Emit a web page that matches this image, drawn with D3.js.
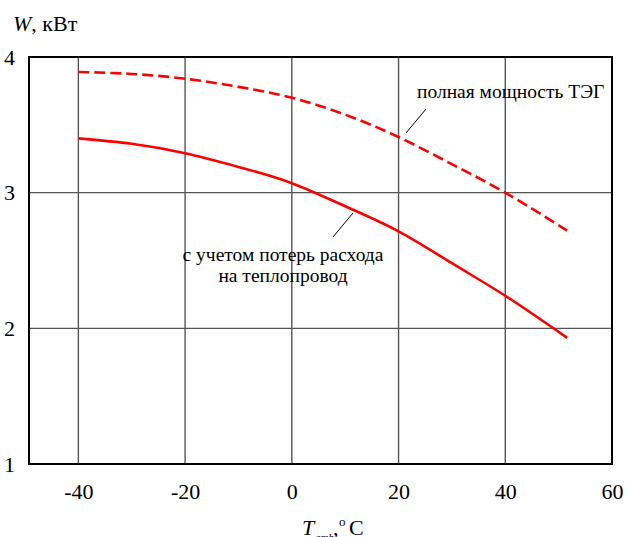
<!DOCTYPE html>
<html>
<head>
<meta charset="utf-8">
<script src="https://cdn.jsdelivr.net/npm/d3@7"></script>
<style>
	body { margin: 0; background: #fff; }
</style>
</head>
<body>
<div id="chart-area"></div>
<script>

const width = 628;
const height = 537;
const margin = {top: 57, right: 16, bottom: 73, left: 29};
const FONT = "Liberation Serif";

// температура, °C
const temps = [-40, -30, -20, -10, 0, 10, 20, 30, 40, 51.6];
// полная мощность ТЭГ, кВт
const fullPower = [3.89, 3.875, 3.84, 3.78, 3.70, 3.575, 3.41, 3.21, 3.0, 2.72];
// с учетом потерь на теплопровод, кВт
const netPower = [3.40, 3.36, 3.29, 3.19, 3.07, 2.90, 2.715, 2.48, 2.24, 1.93];

const xTicks = [-40, -20, 0, 20, 40, 60];
const yTicks = [1, 2, 3, 4];

var svg = d3.select("#chart-area").append("svg")
	.attr("width", width)
	.attr("height", height)
	.style("font-family", FONT);

// шкалы
var x = d3.scaleLinear()
	.domain([-49.25, 60])
	.range([margin.left, width - margin.right]);

var y = d3.scaleLinear()
	.domain([1, 4])
	.range([height - margin.bottom, margin.top]);

// сетка
svg.selectAll(".vgrid")
	.data(xTicks.filter(d => d < 60))
	.enter().append("line")
	.attr("class", "vgrid")
	.attr("x1", d => x(d)).attr("x2", d => x(d))
	.attr("y1", y(4)).attr("y2", y(1))
	.attr("stroke", "#555")
	.attr("stroke-width", 1.4);

svg.selectAll(".hgrid")
	.data(yTicks.filter(d => d > 1 && d < 4))
	.enter().append("line")
	.attr("class", "hgrid")
	.attr("x1", x(-49.25)).attr("x2", x(60))
	.attr("y1", d => y(d)).attr("y2", d => y(d))
	.attr("stroke", "#555")
	.attr("stroke-width", 1.4);

// рамка
svg.append("rect")
	.attr("x", x(-49.25))
	.attr("y", y(4))
	.attr("width", x(60) - x(-49.25))
	.attr("height", y(1) - y(4))
	.attr("fill", "none")
	.attr("stroke", "#000")
	.attr("stroke-width", 2);

// оси
var xAxis = svg.append("g")
	.attr("transform", `translate(0,${y(1)})`)
	.call(d3.axisBottom(x).tickValues(xTicks).tickSize(0).tickPadding(19).tickFormat(d => d < 0 ? "-" + Math.abs(d) : d));
xAxis.select(".domain").remove();
xAxis.selectAll("text")
	.style("font-family", FONT)
	.style("font-size", "22px")
	.attr("fill", "#000");

var yAxis = svg.append("g")
	.attr("transform", "translate(15,0)")
	.call(d3.axisLeft(y).tickValues(yTicks).tickSize(0).tickPadding(0).tickFormat(d3.format("d")));
yAxis.select(".domain").remove();
yAxis.selectAll("text")
	.style("font-family", FONT)
	.style("font-size", "22px")
	.attr("fill", "#000");

// кривые
var line = d3.line()
	.x((d, i) => x(temps[i]))
	.y(d => y(d))
	.curve(d3.curveNatural);

svg.append("path")
	.datum(fullPower)
	.attr("fill", "none")
	.attr("stroke", "#ff0000")
	.attr("stroke-width", 2.6)
	.attr("stroke-dasharray", "11,5")
	.attr("d", line);

svg.append("path")
	.datum(netPower)
	.attr("fill", "none")
	.attr("stroke", "#ff0000")
	.attr("stroke-width", 2.6)
	.attr("d", line);

// подписи осей
var yTitle = svg.append("text")
	.attr("x", 13)
	.attr("y", 31)
	.style("font-family", FONT)
	.style("font-size", "22px");
yTitle.append("tspan").style("font-style", "italic").text("W");
yTitle.append("tspan").text(", кВт");

var xTitle = svg.append("text")
	.attr("y", 535)
	.style("font-family", FONT)
	.style("font-size", "22px");
xTitle.append("tspan").attr("x", 302).style("font-style", "italic").text("T");
xTitle.append("tspan").attr("x", 315).attr("dy", 6).style("font-style", "italic").style("font-size", "11px").text("amb");
xTitle.append("tspan").attr("x", 333).attr("dy", -6).text(",");
xTitle.append("tspan").attr("x", 339).attr("dy", -9).style("font-size", "13px").text("o");
xTitle.append("tspan").attr("x", 349).attr("dy", 9).text("C");

// выноски
svg.append("line")
	.attr("x1", 426).attr("y1", 109)
	.attr("x2", 406).attr("y2", 133)
	.attr("stroke", "#000").attr("stroke-width", 1);
svg.append("text")
	.attr("x", 417)
	.attr("y", 98)
	.style("font-family", FONT)
	.style("font-size", "19.5px")
	.text("полная мощность ТЭГ");

svg.append("line")
	.attr("x1", 353).attr("y1", 213)
	.attr("x2", 333).attr("y2", 237)
	.attr("stroke", "#000").attr("stroke-width", 1);
svg.append("text")
	.attr("x", 283)
	.attr("y", 261)
	.attr("text-anchor", "middle")
	.style("font-family", FONT)
	.style("font-size", "19.5px")
	.text("с учетом потерь расхода");
svg.append("text")
	.attr("x", 283)
	.attr("y", 282)
	.attr("text-anchor", "middle")
	.style("font-family", FONT)
	.style("font-size", "19.5px")
	.text("на теплопровод");

</script>
</body>
</html>
